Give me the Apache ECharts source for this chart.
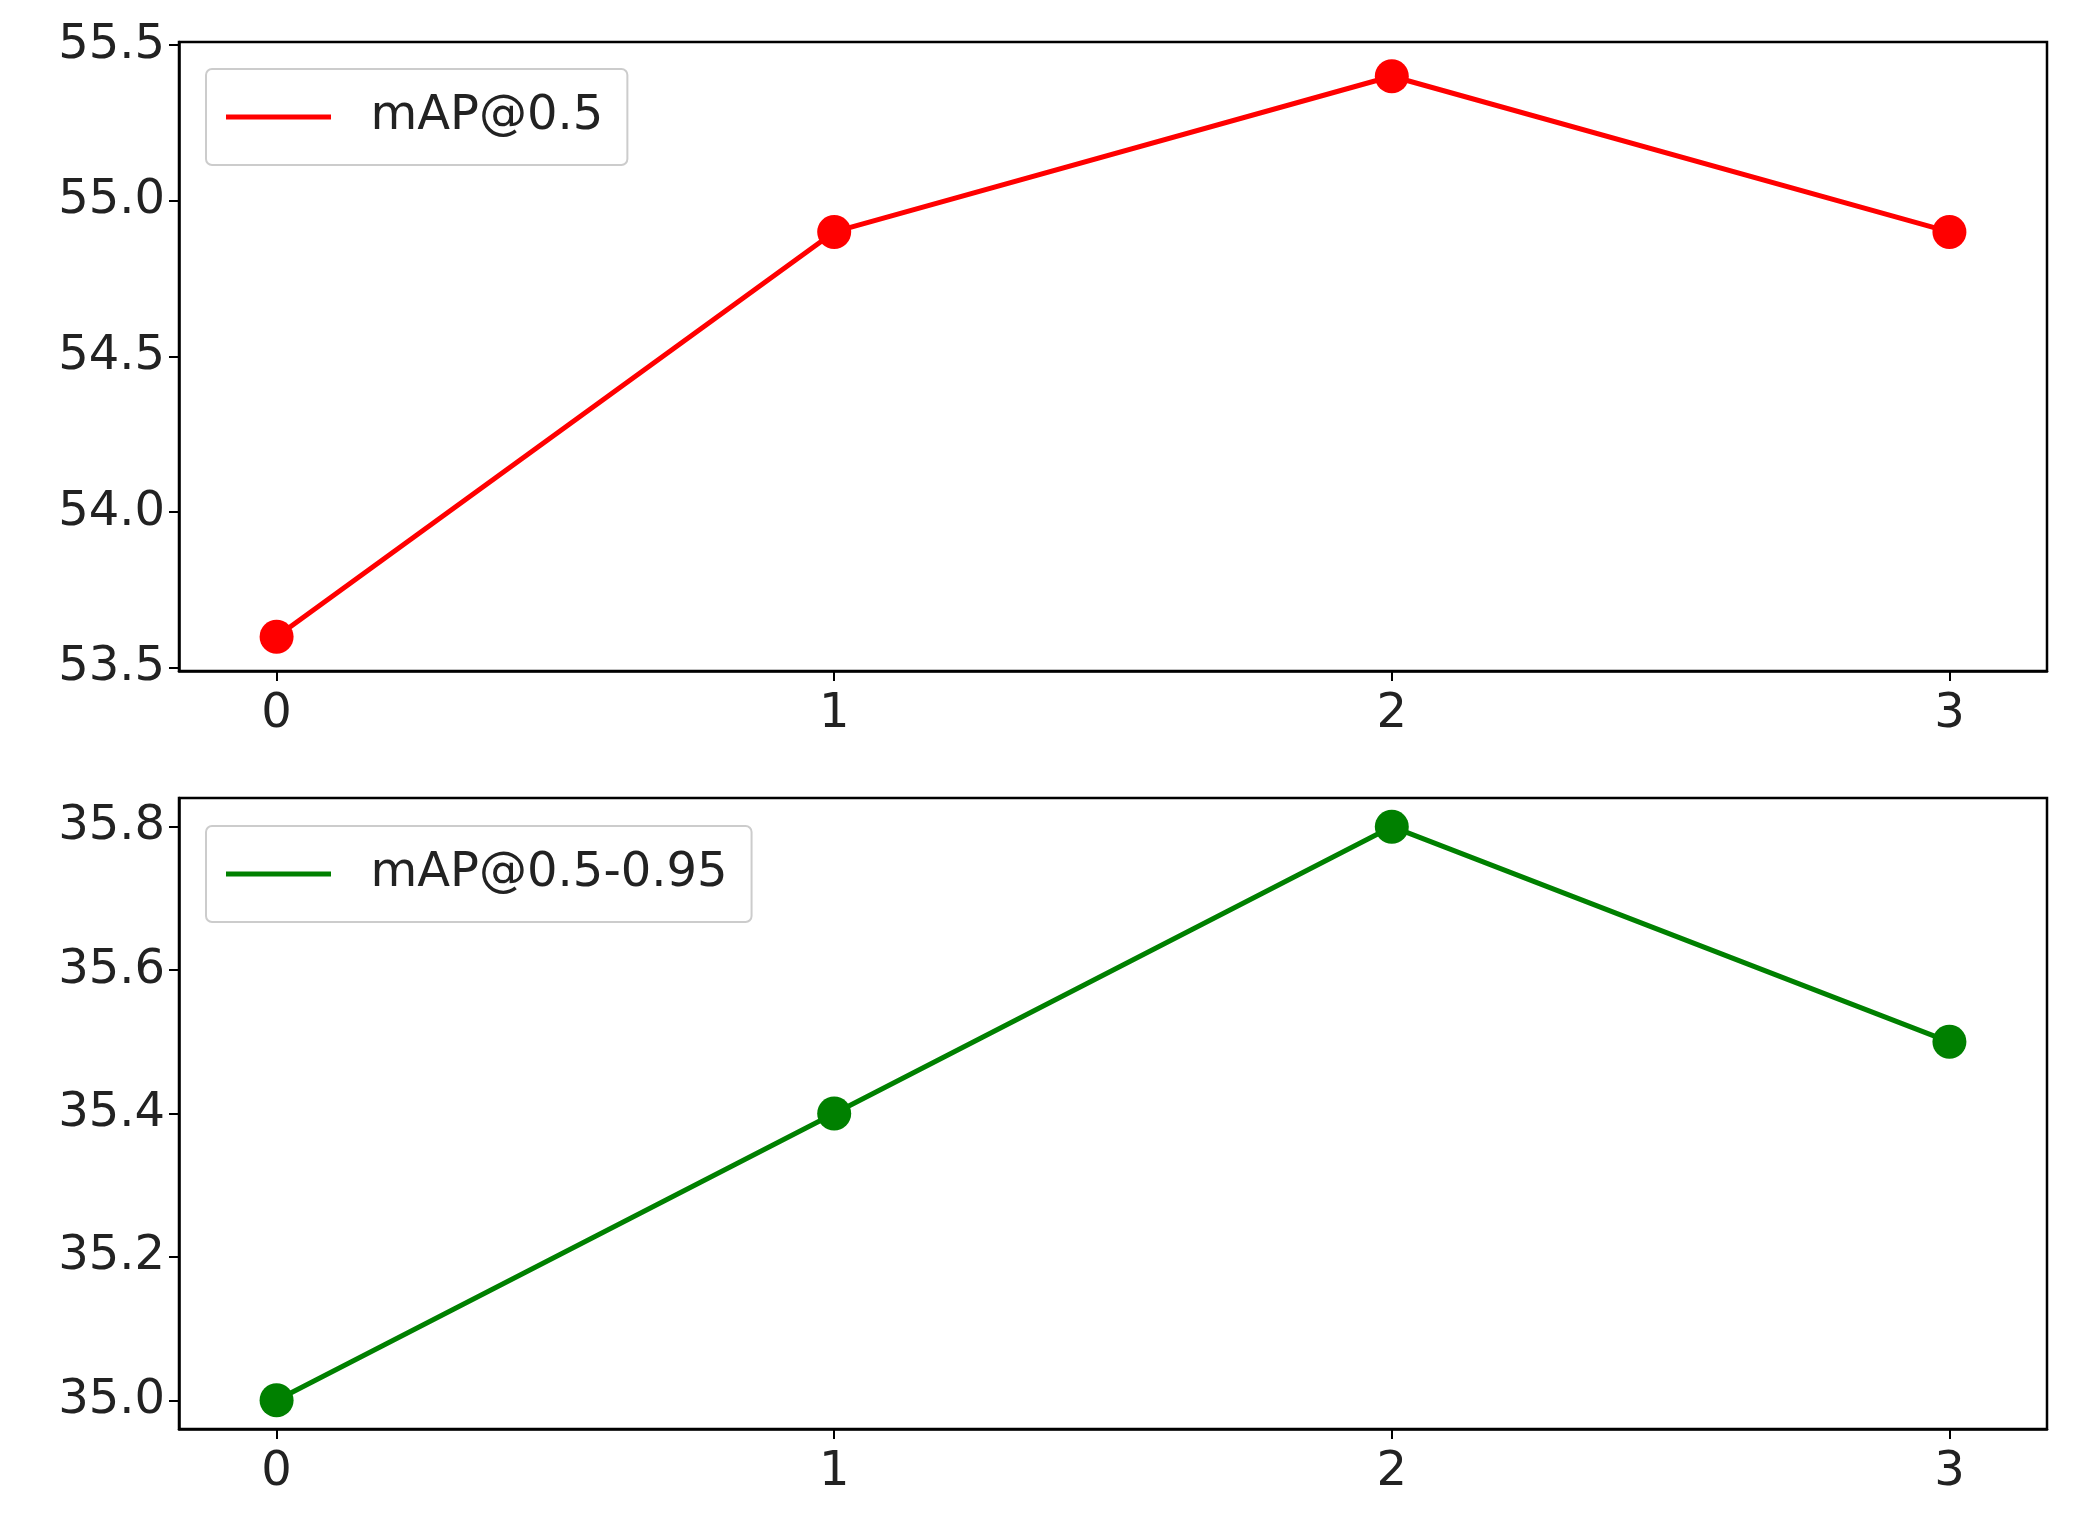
<!DOCTYPE html>
<html>
<head>
<meta charset="UTF-8">
<script src="https://cdn.jsdelivr.net/npm/echarts@6/dist/echarts.min.js"></script>
<style>
html,body{margin:0;padding:0;background:#fff;}
#chart{width:2073px;height:1536px;}
</style>
</head>
<body>
<div id="chart"></div>
<script>
var xTicks = [0, 1, 2, 3];
var map05 = [53.6, 54.9, 55.4, 54.9];
var map0595 = [35.0, 35.4, 35.8, 35.5];
var yTicksTop = [53.5, 54.0, 54.5, 55.0, 55.5];
var yTicksBottom = [35.0, 35.2, 35.4, 35.6, 35.8];

var font = 'DejaVu Sans';
var chart = echarts.init(document.getElementById('chart'));

function xAxis(idx) {
	return {
		type: 'value', gridIndex: idx, min: -0.175, max: 3.175,
		axisLine: {show: true, onZero: false, lineStyle: {color: '#000', width: 2.5}},
		axisTick: {show: true, customValues: xTicks, length: 10, lineStyle: {color: '#000', width: 2}},
		axisLabel: {customValues: xTicks, color: '#222', fontSize: 48, fontFamily: font, margin: 20},
		splitLine: {show: false}
	};
}
function yAxis(idx, min, max, ticks) {
	return {
		type: 'value', gridIndex: idx, min: min, max: max,
		axisLine: {show: true, onZero: false, lineStyle: {color: '#000', width: 2.5}},
		axisTick: {show: true, customValues: ticks, length: 10, lineStyle: {color: '#000', width: 2}},
		axisLabel: {customValues: ticks, color: '#222', fontSize: 48, fontFamily: font, margin: 14,
			formatter: function (v) { return v.toFixed(1); }},
		splitLine: {show: false}
	};
}
function pairs(ys) { return xTicks.map(function (x, i) { return [x, ys[i]]; }); }
function legend(idx, top, name) {
	return {
		data: [name], left: 206, top: top, orient: 'vertical',
		icon: 'path://M0,0 L21,0 L21,1 L0,1 Z',
		itemWidth: 106, itemHeight: 5, itemGap: 0,
		padding: [24, 24, 24, 20],
		borderColor: '#ccc', borderWidth: 2, borderRadius: 6,
		textStyle: {fontSize: 48, fontFamily: font, color: '#222', padding: [0, 0, 0, 34]}
	};
}

chart.setOption({
	animation: false,
	backgroundColor: '#fff',
	grid: [
		{left: 179, right: 26, top: 42, height: 629, show: true, borderColor: '#000', borderWidth: 2.5},
		{left: 179, right: 26, top: 798, height: 631, show: true, borderColor: '#000', borderWidth: 2.5}
	],
	legend: [legend(0, 69, 'mAP@0.5'), legend(1, 826, 'mAP@0.5-0.95')],
	xAxis: [xAxis(0), xAxis(1)],
	yAxis: [yAxis(0, 53.49, 55.51, yTicksTop), yAxis(1, 34.96, 35.84, yTicksBottom)],
	series: [
		{name: 'mAP@0.5', type: 'line', xAxisIndex: 0, yAxisIndex: 0, data: pairs(map05),
			symbol: 'circle', symbolSize: 34, color: '#ff0000', lineStyle: {width: 5}},
		{name: 'mAP@0.5-0.95', type: 'line', xAxisIndex: 1, yAxisIndex: 1, data: pairs(map0595),
			symbol: 'circle', symbolSize: 34, color: '#008000', lineStyle: {width: 5}}
	]
});
</script>
</body>
</html>
